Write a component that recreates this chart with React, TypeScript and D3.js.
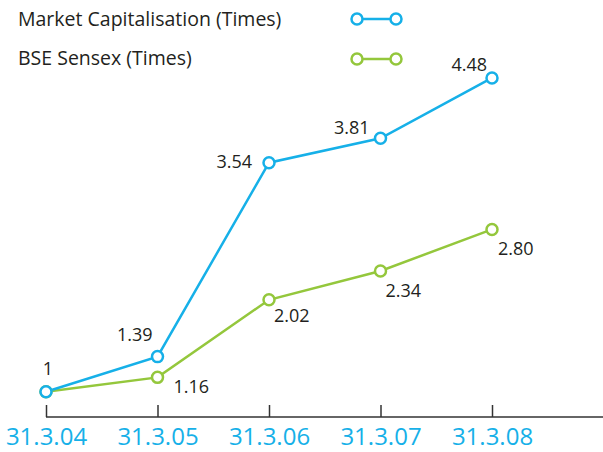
import * as d3 from "d3";
import { useEffect, useRef } from "react";

const categories = ["31.3.04", "31.3.05", "31.3.06", "31.3.07", "31.3.08"];
const marketCap = [1, 1.39, 3.54, 3.81, 4.48];
const sensex = [1, 1.16, 2.02, 2.34, 2.8];
const marketCapLabels = ["1", "1.39", "3.54", "3.81", "4.48"];
const sensexLabels = ["", "1.16", "2.02", "2.34", "2.80"];

// label offsets relative to the point (dx, dy, anchor)
const blueOffsets = [
    [2, -17, "middle"],
    [-5, -16, "end"],
    [-17, 5, "end"],
    [-11, -4, "end"],
    [-5, -7, "end"],
];
const greenOffsets = [
    [0, 0, "start"],
    [16, 16, "start"],
    [5, 22, "start"],
    [5, 26, "start"],
    [6, 26, "start"],
];

const BLUE = "#16b0e8";
const GREEN = "#94c73c";
const TEXT = "#231f20";
const FONT = "'Open Sans', sans-serif";

const App = () => {
    const chartRef = useRef(null);
    const width = 603;
    const height = 452;

    useEffect(() => {
        const svg = d3.select(chartRef.current);
        svg.selectAll("*").remove();

        const x = d3.scalePoint().domain(categories).range([46, 492]);
        const y = d3.scaleLinear().domain([0, 5]).range([482, 31]);
        const axisY = 417;

        // axis
        const axis = svg.append("g")
            .attr("transform", `translate(0, ${axisY})`)
            .call(d3.axisBottom(x).tickSize(-12).tickPadding(11));
        axis.select(".domain").remove();
        axis.selectAll(".tick line")
            .attr("stroke", "#333")
            .attr("stroke-width", 1.5);
        axis.selectAll(".tick text")
            .attr("fill", BLUE)
            .attr("font-family", FONT)
            .attr("font-size", 24)
            .attr("dy", "0.71em");
        svg.append("line")
            .attr("x1", 46)
            .attr("x2", width)
            .attr("y1", axisY)
            .attr("y2", axisY)
            .attr("stroke", "#333")
            .attr("stroke-width", 1.5);

        const line = d3.line()
            .x((d, i) => x(categories[i]))
            .y(d => y(d));

        const series = [
            { values: sensex, color: GREEN, labels: sensexLabels, offsets: greenOffsets },
            { values: marketCap, color: BLUE, labels: marketCapLabels, offsets: blueOffsets },
        ];

        series.forEach(s => {
            svg.append("path")
                .datum(s.values)
                .attr("d", line)
                .attr("fill", "none")
                .attr("stroke", s.color)
                .attr("stroke-width", 2.5);
        });

        series.forEach(s => {
            svg.append("g").selectAll("circle")
                .data(s.values)
                .enter()
                .append("circle")
                .attr("cx", (d, i) => x(categories[i]))
                .attr("cy", d => y(d))
                .attr("r", 5.5)
                .attr("fill", "white")
                .attr("stroke", s.color)
                .attr("stroke-width", 2.5);

            svg.append("g").selectAll("text")
                .data(s.values)
                .enter()
                .append("text")
                .attr("x", (d, i) => x(categories[i]) + s.offsets[i][0])
                .attr("y", (d, i) => y(d) + s.offsets[i][1])
                .attr("text-anchor", (d, i) => s.offsets[i][2])
                .attr("font-family", FONT)
                .attr("font-size", 18)
                .attr("fill", TEXT)
                .text((d, i) => s.labels[i]);
        });

        // legend
        const legend = [
            { name: "Market Capitalisation (Times)", color: BLUE, y: 26, ly: 19 },
            { name: "BSE Sensex (Times)", color: GREEN, y: 65, ly: 59 },
        ];
        legend.forEach(l => {
            svg.append("text")
                .attr("x", 18)
                .attr("y", l.y)
                .attr("font-family", FONT)
                .attr("font-size", 19.5)
                .attr("fill", TEXT)
                .text(l.name);
            svg.append("line")
                .attr("x1", 357)
                .attr("x2", 396)
                .attr("y1", l.ly)
                .attr("y2", l.ly)
                .attr("stroke", l.color)
                .attr("stroke-width", 2.5);
            [357, 396].forEach(cx => {
                svg.append("circle")
                    .attr("cx", cx)
                    .attr("cy", l.ly)
                    .attr("r", 5.5)
                    .attr("fill", "white")
                    .attr("stroke", l.color)
                    .attr("stroke-width", 2.5);
            });
        });
    }, []);

    return (
        <svg
            ref={chartRef}
            width={width}
            height={height}
            style={{ position: "absolute", left: 0, top: 0, background: "white" }}
        />
    );
};

export default App;
